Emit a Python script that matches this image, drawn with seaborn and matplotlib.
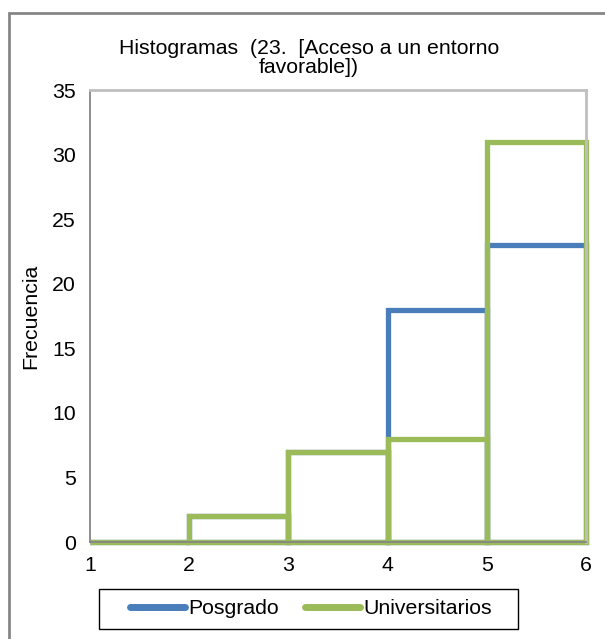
import numpy as np
import pandas as pd
import matplotlib
matplotlib.use("Agg")
import matplotlib.pyplot as plt
from matplotlib.patches import Rectangle
from matplotlib.lines import Line2D
import seaborn as sns

# histogram counts per bin
bin_edges = [1, 2, 3, 4, 5, 6]
posgrado = [0, 2, 7, 18, 23]
universitarios = [0, 2, 7, 8, 31]
y_ticks = [0, 5, 10, 15, 20, 25, 30, 35]

title = "Histogramas  (23.  [Acceso a un entorno\nfavorable])"
blue = "#4a7ebb"
green = "#9bbb59"
fs = 15.3

sns.set_style("white")
plt.rcParams["font.family"] = ["Liberation Sans", "DejaVu Sans"]
plt.rcParams["text.color"] = "black"
plt.rcParams["axes.labelcolor"] = "black"

centers = [(a + b) / 2 for a, b in zip(bin_edges[:-1], bin_edges[1:])]
df = pd.DataFrame({"centro": centers, "Posgrado": posgrado,
                   "Universitarios": universitarios})

fig = plt.figure(figsize=(6.05, 6.39), dpi=100)
ax = fig.add_axes([90 / 605, 1 - 542 / 639, 496 / 605, 452 / 639])

lw = 3.8
sns.histplot(data=df, x="centro", weights="Posgrado", bins=bin_edges,
             element="bars", fill=False, color=blue, linewidth=lw, ax=ax)
sns.histplot(data=df, x="centro", weights="Universitarios", bins=bin_edges,
             element="bars", fill=False, color=green, linewidth=lw, ax=ax)
for p in ax.patches:
    p.set_clip_on(False)
    p.set_joinstyle("miter")

ax.set_xlim(1, 6)
ax.set_ylim(0, 35)
ax.set_xticks(bin_edges)
ax.set_yticks(y_ticks)
ax.tick_params(axis="both", labelsize=fs, colors="#868686", labelcolor="black",
               direction="out", length=5, width=1.2)
ax.tick_params(axis="x", pad=5)
ax.tick_params(axis="y", pad=5)
ax.set_xlabel("")
ax.set_ylabel("Frecuencia", fontsize=fs, labelpad=9, color="black")

for side in ["left", "bottom"]:
    ax.spines[side].set_color("#868686")
    ax.spines[side].set_linewidth(1.3)
for side in ["top", "right"]:
    ax.spines[side].set_visible(True)
    ax.spines[side].set_color("#bfbfbf")
    ax.spines[side].set_linewidth(2)

fig.text(309 / 605, 1 - 58 / 639, title, ha="center", va="center",
         fontsize=fs, linespacing=1.05, color="black")

handles = [Line2D([], [], color=blue, lw=5, solid_capstyle="round"),
           Line2D([], [], color=green, lw=5, solid_capstyle="round")]
leg = fig.legend(handles, ["Posgrado", "Universitarios"], loc="center",
                 bbox_to_anchor=(311 / 605, 1 - 609 / 639), ncol=2,
                 fontsize=fs, frameon=False, handlelength=2.6,
                 handletextpad=0.15, columnspacing=1.2, labelcolor="black")

# legend box
fig.patches.append(Rectangle((99 / 605, 1 - 629 / 639), 419 / 605, 40 / 639,
                             transform=fig.transFigure, fill=False,
                             edgecolor="black", linewidth=1))

# outer chart border
fig.patches.append(Rectangle((9 / 605, -0.1), 1.2, 1 - 13 / 639 + 0.1,
                             transform=fig.transFigure, fill=False,
                             edgecolor="#868686", linewidth=2))

fig.savefig("out.png", dpi=100)
